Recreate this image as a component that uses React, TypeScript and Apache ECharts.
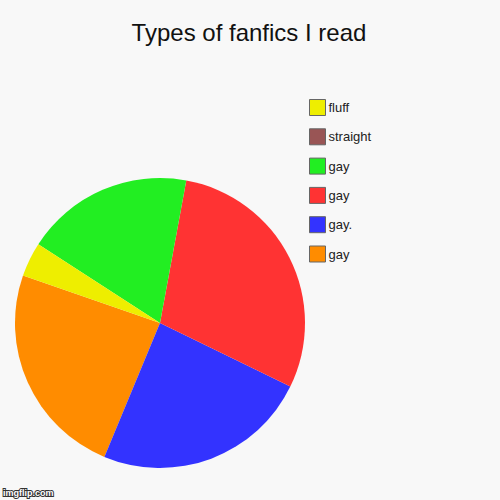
import React, { useEffect, useRef } from "react";
import * as echarts from "echarts";

const labels = ["gay", "gay.", "gay", "gay", "straight", "fluff"];
const values = [25, 25, 30.5, 19.5, 0, 4];
const colors = ["#ff8c00", "#3333ff", "#ff3333", "#22ee22", "#995555", "#eeee00"];

export default function App() {
  const chartRef = useRef<HTMLDivElement>(null);

  useEffect(() => {
    document.body.style.margin = "0";
    if (!chartRef.current) return;
    const chart = echarts.init(chartRef.current, null, { renderer: "svg" });

    // legend names must be unique, so key each slice by index
    const names = labels.map((l, i) => `${l}#${i}`);

    chart.setOption({
      animation: false,
      backgroundColor: "#f8f8f8",
      textStyle: { fontFamily: "Liberation Sans, Arial, sans-serif" },
      title: {
        text: "Types of fanfics I read",
        left: 244,
        top: 15,
        textAlign: "center",
        textStyle: { fontSize: 24, fontWeight: "normal", color: "#111" },
      },
      legend: {
        orient: "vertical",
        left: 304,
        top: 94,
        itemWidth: 16,
        itemHeight: 16,
        itemGap: 12.3,
        icon: "rect",
        data: names.slice().reverse(),
        formatter: (name: string) => name.split("#")[0],
        itemStyle: { borderColor: "#666", borderWidth: 1 },
        textStyle: { fontSize: 13, color: "#222", padding: [0, 0, 0, -2] },
        selectedMode: false,
      },
      graphic: [
        {
          type: "text",
          left: 2,
          top: 487,
          style: {
            text: "imgflip.com",
            fill: "#fff",
            font: "bold 9px Liberation Sans, Arial, sans-serif",
            stroke: "#333",
            lineWidth: 2,
          },
        },
      ],
      series: [
        {
          type: "pie",
          center: [160, 323],
          radius: [0, 145],
          startAngle: 160.9,
          clockwise: false,
          label: { show: false },
          labelLine: { show: false },
          emphasis: { disabled: true },
          itemStyle: { borderWidth: 0 },
          data: values.map((v, i) => ({
            name: names[i],
            value: v,
            itemStyle: { color: colors[i] },
          })),
        },
      ],
    });

    return () => chart.dispose();
  }, []);

  return <div ref={chartRef} style={{ width: 500, height: 500 }} />;
}
